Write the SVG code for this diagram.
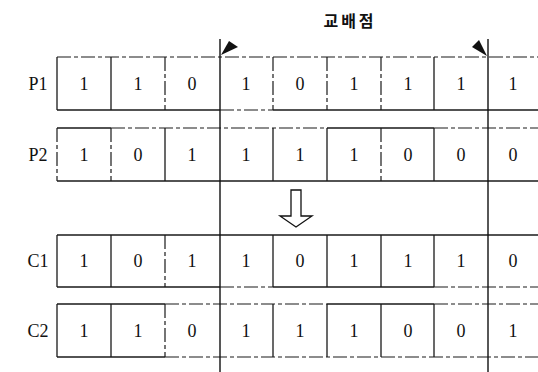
<svg xmlns="http://www.w3.org/2000/svg" width="538" height="372" viewBox="0 0 538 372">
<style>
.s{stroke:#1a1a1a;stroke-width:1.3;fill:none}
.d{stroke:#1a1a1a;stroke-width:1.2;fill:none;stroke-dasharray:14 3 4 3}
.v{font-family:"Liberation Serif","Times New Roman",serif;font-size:18px;fill:#111;text-anchor:middle}
.lb{font-family:"Liberation Serif","Times New Roman",serif;font-size:18px;fill:#111;text-anchor:middle}
.t{font-family:"Noto Sans CJK KR","Noto Sans",sans-serif;font-size:16px;font-weight:bold;fill:#111;text-anchor:middle;letter-spacing:3px}
.cx{stroke:#111;stroke-width:1.4;fill:none}
</style>
<rect width="538" height="372" fill="#fff"/>
<text class="t" x="350" y="27">교배점</text>

<g id="P1">
<text class="lb" x="38" y="90">P1</text>
<path class="d" d="M57 57H538"/>
<path class="s" d="M57 110H220M273 110H538"/>
<path class="d" d="M220 110H273"/>
<path class="s" d="M57 57V110M111 57V110M434 57V110"/>
<path class="d" d="M165 57V110M273 57V110M327 57V110M381 57V110"/>
<g class="v"><text x="84" y="90">1</text><text x="138" y="90">1</text><text x="192" y="90">0</text><text x="246" y="90">1</text><text x="300" y="90">0</text><text x="354" y="90">1</text><text x="408" y="90">1</text><text x="461" y="90">1</text><text x="513" y="90">1</text></g>
</g>

<g id="P2">
<text class="lb" x="38" y="161">P2</text>
<path class="s" d="M57 128H111M327 128H434"/>
<path class="d" d="M111 128H327M434 128H538"/>
<path class="s" d="M57 181H538"/>
<path class="s" d="M165 128V181M273 128V181M327 128V181M434 128V181"/>
<path class="d" d="M57 128V181M111 128V181M381 128V181"/>
<g class="v"><text x="84" y="161">1</text><text x="138" y="161">0</text><text x="192" y="161">1</text><text x="246" y="161">1</text><text x="300" y="161">1</text><text x="354" y="161">1</text><text x="408" y="161">0</text><text x="461" y="161">0</text><text x="513" y="161">0</text></g>
</g>

<g id="C1">
<text class="lb" x="38" y="267">C1</text>
<path class="s" d="M57 235H538"/>
<path class="s" d="M57 287H220M273 287H434"/>
<path class="d" d="M220 287H273M434 287H538"/>
<path class="s" d="M57 235V287M111 235V287M273 235V287M327 235V287M381 235V287M434 235V287"/>
<path class="d" d="M165 235V287"/>
<g class="v"><text x="84" y="267">1</text><text x="138" y="267">0</text><text x="192" y="267">1</text><text x="246" y="267">1</text><text x="300" y="267">0</text><text x="354" y="267">1</text><text x="408" y="267">1</text><text x="461" y="267">1</text><text x="513" y="267">0</text></g>
</g>

<g id="C2">
<text class="lb" x="38" y="337">C2</text>
<path class="s" d="M57 304H165M327 304H434"/>
<path class="d" d="M165 304H327M434 304H538"/>
<path class="s" d="M57 357H165"/>
<path class="d" d="M165 357H538"/>
<path class="s" d="M57 304V357M111 304V357M273 304V357M327 304V357M381 304V357M434 304V357"/>
<path class="d" d="M165 304V357"/>
<g class="v"><text x="84" y="337">1</text><text x="138" y="337">1</text><text x="192" y="337">0</text><text x="246" y="337">1</text><text x="300" y="337">1</text><text x="354" y="337">1</text><text x="408" y="337">0</text><text x="461" y="337">0</text><text x="513" y="337">1</text></g>
</g>

<g id="connectors">
<path class="cx" d="M220 39V372M488 39V372"/>
<polygon points="221,55 229,41 238,47" fill="#111"/>
<polygon points="487,56 472,47 479,40" fill="#111"/>
<path d="M291 190H301V216H312L296 227L280 216H291Z" fill="#fff" stroke="#111" stroke-width="1.3"/>
</g>
</svg>
